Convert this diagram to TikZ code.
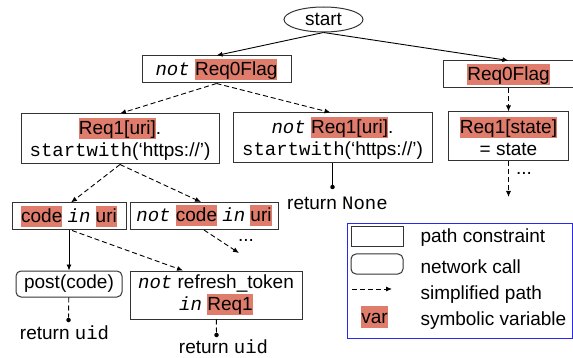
\documentclass[tikz,border=0pt]{standalone}
\usepackage{fontspec}
\setmainfont{Liberation Sans}
\setmonofont{Liberation Mono}
\usepackage{tikz}
\usetikzlibrary{arrows.meta,shapes.geometric}
\definecolor{varred}{RGB}{223,124,107}
\definecolor{legblue}{RGB}{40,40,240}
% symbolic variable and keyword
\newcommand{\svar}[1]{{\setlength{\fboxsep}{0pt}\colorbox{varred}{\rule[-4.5pt]{0pt}{21pt}#1}}}
\newcommand{\kw}[1]{\textit{\ttfamily #1}}
\tikzset{
  pc/.style={draw=black!80,line width=1pt,rectangle,inner sep=0pt,align=center},
  call/.style={pc,rounded corners=5pt},
  flow/.style={line width=0.9pt,-{Latex[length=6pt,width=5pt]}},
  simp/.style={flow,dash pattern=on 5pt off 3pt},
  retdot/.style={circle,fill,inner sep=0pt,minimum size=4.5pt},
  more/.style={inner sep=0pt,anchor=base},
}

\begin{document}
\begin{tikzpicture}[x=1pt,y=-1pt,font=\fontsize{19}{22}\selectfont]
      \useasboundingbox (0,0) rectangle (573,358);
      % the tree
      \node[draw=black!80,line width=1pt,ellipse,minimum width=79pt,minimum height=25pt,inner sep=0pt] (start) at (323.5,19.5) {start};
      \node[pc,minimum width=149pt,minimum height=27pt] (notflag) at (216.5,69.5) {\kw{not} \svar{Req0Flag}};
      \node[pc,minimum width=130pt,minimum height=27pt] (flag) at (508.5,74.5) {\svar{Req0Flag}};
      \node[pc,minimum width=198pt,minimum height=50pt] (uri) at (120,139) {\svar{Req1[uri]}.\\\texttt{startwith}(‘https://’)};
      \node[pc,minimum width=199pt,minimum height=50pt] (noturi) at (332.5,138) {\kw{not} \svar{Req1[uri]}.\\\texttt{startwith}(‘https://’)};
      \node[pc,minimum width=120pt,minimum height=49pt] (state) at (508.5,136.5) {\svar{Req1[state]}\\= state};
      \node[pc,minimum width=114pt,minimum height=27pt] (code) at (69,216.5) {\svar{code} \kw{in} \svar{uri}};
      \node[pc,minimum width=148pt,minimum height=27pt] (notcode) at (204,216) {\kw{not} \svar{code} \kw{in} \svar{uri}};
      \node[call,minimum width=106pt,minimum height=26pt] (post) at (69,284) {post(code)};
      \node[pc,minimum width=172pt,minimum height=48pt] (refresh) at (216,295) {\kw{not} refresh\_token\\\kw{in} \svar{Req1}};
      %% the returns
      \node[retdot] (dotnone) at (332.5,187) {};
      \node[retdot] (dotuid) at (68.5,320) {};
      \node[retdot] (dotuidb) at (216.5,335) {};
      \node (retnone) at (337.5,203) {return \texttt{None}};
      \node (retuid) at (64.5,333) {return \texttt{uid}};
      \node (retuidb) at (223.5,347) {return \texttt{uid}};
      \coordinate (endstate) at (508.5,197);
      \coordinate (endcode) at (239,253);
      \node[more] (morestate) at (524,175) {...};
      \node[more] (morecode) at (246,241) {...};
      % edges
      \draw[flow] (start.south) -- (notflag.north);
      \draw[flow] (start.south) -- (flag.north);
      \draw[simp] (notflag.south) -- (uri.north);
      \draw[simp] (notflag.south) -- ([xshift=-2pt]noturi.north);
      \draw[simp] (flag) -- (state);
      \draw[simp] (state) -- (endstate);
      \draw[line width=0.9pt] (noturi) -- (dotnone);
      \draw[simp] (uri.south) -- ([xshift=2pt]code.north);
      \draw[simp] (uri.south) -- ([xshift=-3pt]notcode.north);
      \draw[simp] (notcode.south) -- (endcode);
      \draw[flow] (code) -- (post);
      \draw[simp] ([xshift=3pt]code.south) -- ([xshift=-33pt]refresh.north);
      \draw[line width=0.9pt,dash pattern=on 5pt off 3pt] (post) -- (dotuid);
      \draw[line width=0.9pt,dash pattern=on 5pt off 3pt] (refresh) -- (dotuidb);
      % legend
      \node[draw=legblue,line width=1pt,minimum width=225pt,minimum height=114pt] (legend) at (459.5,281) {};
      \node[pc,minimum width=52pt,minimum height=20pt] (legpc) at (377,237) {};
      \node[call,minimum width=52pt,minimum height=20pt] (legcall) at (377,264) {};
      \coordinate (legA) at (352,289);
      \coordinate (legB) at (392,289);
      \draw[simp] (legA) -- (legB);
      \node (legvar) at (374.5,317) {\svar{var}};
      \foreach \t/\y/\n in {path constraint/238/1,network call/267/2,simplified path/295/3,symbolic variable/321/4}
        \node[anchor=west] (legtext\n) at (417,\y) {\t};
    \end{tikzpicture}
\end{document}
